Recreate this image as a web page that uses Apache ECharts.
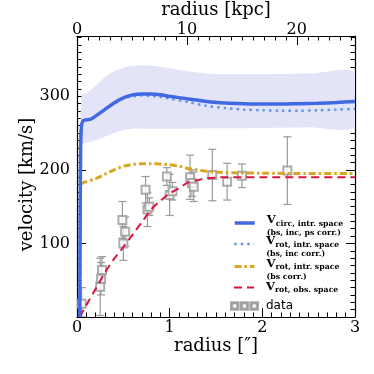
<!DOCTYPE html>
<html>
<head>
<meta charset="utf-8">
<script src="https://cdn.jsdelivr.net/npm/echarts@6/dist/echarts.min.js"></script>
<style>
html, body { margin: 0; padding: 0; background: #fff; }
#main { width: 374px; height: 374px; }
</style>
</head>
<body>
<div id="main"></div>
<script>
var myChart = echarts.init(document.getElementById('main'));

// 1 arcsec in kpc (top axis)
var kpcPerArcsec = 8.433;

// V_circ, intr. space (bs, inc, ps corr.)
var vcircR = [0.03, 0.035, 0.04, 0.05, 0.07, 0.1, 0.15, 0.2, 0.3, 0.4, 0.5, 0.6, 0.7, 0.8, 0.9, 1.0, 1.2, 1.4, 1.6, 1.8, 2.0, 2.2, 2.4, 2.6, 2.8, 3.0];
var vcircV = [0, 150, 235, 262, 267, 268, 269, 273, 282, 291, 298, 302, 303, 303, 302, 300, 296.5, 293, 291, 290, 289.5, 289.5, 290, 290.5, 291.5, 293];
// V_rot, intr. space (bs, inc corr.)
var vrotIntrV = [0, 150, 235, 262, 267, 268, 269, 273, 282, 290, 297, 300, 301, 300.5, 299, 297, 292, 287, 284, 282, 281, 280.5, 280.5, 281, 282, 283];
// V_rot, intr. space (bs corr.)
var bsR = [0.04, 0.1, 0.2, 0.3, 0.4, 0.5, 0.6, 0.7, 0.8, 0.9, 1.0, 1.1, 1.2, 1.3, 1.4, 1.5, 1.7, 2.0, 2.5, 3.0];
var bsV = [181, 184, 188, 194, 200, 205, 207.5, 208.5, 208.5, 208, 207, 205, 202, 200, 198, 197, 196, 195.5, 195, 195];
// V_rot, obs. space
var obsR = [0.03, 0.1, 0.2, 0.3, 0.4, 0.5, 0.6, 0.7, 0.8, 0.9, 1.0, 1.1, 1.2, 1.3, 1.4, 1.5, 1.6, 1.8, 2.0, 2.5, 3.0];
var obsV = [0, 16, 38, 60, 79, 95, 112, 129, 146, 158, 168, 175, 183, 186, 188.5, 189.5, 190, 190, 190, 190, 190];
// uncertainty band on V_circ
var bandR = [0.05, 0.1, 0.2, 0.3, 0.4, 0.5, 0.6, 0.7, 0.8, 0.9, 1.0, 1.2, 1.4, 1.6, 2.0, 2.5, 3.0];
var bandLo = [236, 237, 240, 245, 250, 254, 256, 256, 256, 256, 256, 256, 256.5, 256.5, 257, 258, 259];
var bandHi = [302, 304, 314, 326, 334, 339, 341.5, 342, 341.5, 340, 338, 334, 331, 330, 330, 331, 332];
// measured points
var dataR = [0.05, 0.25, 0.26, 0.27, 0.49, 0.52, 0.50, 0.74, 0.76, 0.78, 0.97, 1.00, 1.03, 1.22, 1.24, 1.26, 1.46, 1.62, 1.78, 2.27];
var dataV = [18, 41, 52, 64, 132, 116, 100, 173, 146, 150, 191, 166, 171, 190, 182, 177, 193, 184, 192, 199];
var dataErr = [22, 39, 22, 18, 25, 20, 23, 18, 23, 12, 12, 28, 12, 30, 18, 20, 35, 25, 16, 46];

var legendText = {
  vcirc: ['circ, intr. space', '(bs, inc, ps corr.)'],
  vrotIntr: ['rot, intr. space', '(bs, inc corr.)'],
  vrotBs: ['rot, intr. space', '(bs corr.)'],
  vrotObs: ['rot, obs. space', null]
};

function pairs(xs, ys) {
  return xs.map(function (x, i) { return [x, ys[i]]; });
}

var serif = 'DejaVu Serif';
var yMax = 382;
var kpcMax = 3 * kpcPerArcsec;

var legendRich = {
  v: { fontFamily: serif, fontSize: 11.5, fontWeight: 'bold', lineHeight: 13, verticalAlign: 'top', color: '#000' },
  s: { fontFamily: serif, fontSize: 7.8, fontWeight: 'bold', lineHeight: 13, verticalAlign: 'bottom', color: '#000' },
  p: { fontFamily: serif, fontSize: 7.8, fontWeight: 'bold', lineHeight: 11, color: '#000' }
};

function legendFor(name, top, lineStyle) {
  var twoLines = !!legendText[name][1];
  return {
    data: [name],
    orient: 'vertical',
    left: 233,
    top: top,
    padding: 0,
    itemWidth: 20,
    itemHeight: 10,
    selectedMode: false,
    itemStyle: { color: 'rgba(0,0,0,0)', borderColor: 'rgba(0,0,0,0)', borderWidth: 0 },
    lineStyle: lineStyle,
    formatter: function (n) {
      var t = legendText[n];
      var s = '{v|V}{s|' + t[0] + '}';
      if (t[1]) s += '\n{p|' + t[1] + '}';
      return s;
    },
    textStyle: { rich: legendRich, padding: twoLines ? [7, 0, 0, 7] : [0, 0, 0, 7] }
  };
}

// three hollow squares
var squaresIcon = 'path://M0,0H8V8H0Z M1.3,1.3V6.7H6.7V1.3Z M10.5,0H18.5V8H10.5Z M11.8,1.3V6.7H17.2V1.3Z M21,0H29V8H21Z M22.3,1.3V6.7H27.7V1.3Z';

var axisBlack = { color: '#000', width: 1.2 };
var majorTick = { show: true, inside: true, length: 9, lineStyle: { color: '#000', width: 1 } };
var minorTickAxis = { show: true, inside: true, length: 4.5, lineStyle: { color: '#000', width: 1 } };
var nameStyle = { fontFamily: serif, fontSize: 18, color: '#000' };
var tickFont = { fontFamily: serif, fontSize: 16, color: '#000' };

var option = {
  animation: false,
  grid: { left: 77, right: 19, top: 36, bottom: 57, containLabel: false, outerBoundsMode: 'none' },
  legend: [
    legendFor('vcirc', 214.5, { width: 3.5 }),
    legendFor('vrotIntr', 235.5, { width: 2.5 }),
    legendFor('vrotBs', 258, { width: 3 }),
    legendFor('vrotObs', 281, { width: 2 }),
    {
      data: [{ name: 'data', icon: squaresIcon }],
      left: 230, top: 300, padding: 0,
      itemWidth: 27, itemHeight: 7.5,
      selectedMode: false,
      itemStyle: { color: '#999' },
      textStyle: { fontFamily: 'DejaVu Sans', fontSize: 12, color: '#000', padding: [0, 0, 0, 3] }
    }
  ],
  xAxis: [
    {
      type: 'value', position: 'bottom', min: 0, max: 3, interval: 1, offset: 0,
      name: 'radius [\u2033]', nameLocation: 'middle', nameGap: 20, nameMoveOverlap: false,
      nameTextStyle: nameStyle,
      axisLine: { show: true, onZero: false, lineStyle: axisBlack },
      axisTick: majorTick,
      minorTick: { show: true, splitNumber: 10, length: 4.5, lineStyle: { color: '#000', width: 1 } },
      axisLabel: Object.assign({ margin: 3 }, tickFont),
      splitLine: { show: false }, minorSplitLine: { show: false }
    },
    {
      type: 'value', position: 'top', min: 0, max: kpcMax, interval: 10, offset: 0,
      name: 'radius [kpc]', nameLocation: 'middle', nameGap: 17, nameMoveOverlap: false,
      nameTextStyle: nameStyle,
      axisLine: { show: true, onZero: false, lineStyle: axisBlack },
      axisTick: majorTick,
      axisLabel: Object.assign({
        margin: -2,
        formatter: function (v) { return v % 10 === 0 ? String(v) : ''; }
      }, tickFont),
      splitLine: { show: false }
    },
    {
      type: 'value', position: 'top', min: 0, max: kpcMax, interval: 1, offset: 0,
      axisLine: { show: false, onZero: false },
      axisTick: minorTickAxis,
      axisLabel: { show: false },
      splitLine: { show: false }
    }
  ],
  yAxis: [
    {
      type: 'value', position: 'left', min: 0, max: yMax, interval: 100, offset: 0,
      name: 'velocity [km/s]', nameLocation: 'middle', nameGap: 41, nameMoveOverlap: false,
      nameTextStyle: Object.assign({ padding: [0, 16, 0, 0] }, nameStyle),
      axisLine: { show: true, onZero: false, lineStyle: axisBlack },
      axisTick: majorTick,
      axisLabel: Object.assign({
        margin: 7,
        formatter: function (v) { return v % 100 === 0 && v > 0 ? String(v) : ''; }
      }, tickFont),
      splitLine: { show: false }
    },
    {
      type: 'value', position: 'left', min: 0, max: yMax, interval: 10, offset: 0,
      axisLine: { show: false, onZero: false },
      axisTick: minorTickAxis,
      axisLabel: { show: false },
      splitLine: { show: false }
    },
    {
      type: 'value', position: 'right', min: 0, max: yMax, interval: 100, offset: 0,
      axisLine: { show: true, onZero: false, lineStyle: axisBlack },
      axisTick: majorTick,
      axisLabel: { show: false },
      splitLine: { show: false }
    },
    {
      type: 'value', position: 'right', min: 0, max: yMax, interval: 10, offset: 0,
      axisLine: { show: false, onZero: false },
      axisTick: minorTickAxis,
      axisLabel: { show: false },
      splitLine: { show: false }
    }
  ],
  series: [
    {
      name: 'band', type: 'custom', silent: true, clip: true,
      data: [[bandR[0], bandLo[0]]],
      renderItem: function (params, api) {
        var pts = [];
        var i;
        for (i = 0; i < bandR.length; i++) pts.push(api.coord([bandR[i], bandHi[i]]));
        for (i = bandR.length - 1; i >= 0; i--) pts.push(api.coord([bandR[i], bandLo[i]]));
        return {
          type: 'polygon',
          shape: { points: pts, smooth: 0.3 },
          style: { fill: '#e4e4f8', stroke: 'none' }
        };
      }
    },
    {
      name: 'errors', type: 'custom', clip: true,
      data: dataR.map(function (r, i) { return [r, Math.max(0, dataV[i] - dataErr[i]), dataV[i] + dataErr[i]]; }),
      encode: { x: 0, y: [1, 2] },
      renderItem: function (params, api) {
        var x = api.value(0);
        var top = api.coord([x, api.value(2)]);
        var bot = api.coord([x, api.value(1)]);
        var hw = 4;
        var st = { stroke: '#9a9a9a', lineWidth: 1.2 };
        return {
          type: 'group',
          children: [
            { type: 'line', shape: { x1: top[0], y1: top[1], x2: bot[0], y2: bot[1] }, style: st },
            { type: 'line', shape: { x1: top[0] - hw, y1: top[1], x2: top[0] + hw, y2: top[1] }, style: st },
            { type: 'line', shape: { x1: bot[0] - hw, y1: bot[1], x2: bot[0] + hw, y2: bot[1] }, style: st }
          ]
        };
      }
    },
    {
      name: 'data', type: 'scatter', symbol: 'emptyRect', symbolSize: 8,
      data: pairs(dataR, dataV),
      itemStyle: { color: '#999', borderColor: '#999', borderWidth: 1.5 }
    },
    {
      name: 'vrotBs', type: 'line', symbol: 'none', smooth: 0.3,
      data: pairs(bsR, bsV),
      lineStyle: { color: '#daa520', width: 3, type: [7, 3, 2.5, 3] },
      itemStyle: { color: '#daa520' }
    },
    {
      name: 'vrotObs', type: 'line', symbol: 'none', smooth: 0.3,
      data: pairs(obsR, obsV),
      lineStyle: { color: '#dc143c', width: 2, type: [8, 5] },
      itemStyle: { color: '#dc143c' }
    },
    {
      name: 'vrotIntr', type: 'line', symbol: 'none', smooth: 0.3,
      data: pairs(vcircR, vrotIntrV),
      lineStyle: { color: '#6495ed', width: 2.5, type: [2.5, 4] },
      itemStyle: { color: '#6495ed' }
    },
    {
      name: 'vcirc', type: 'line', symbol: 'none', smooth: 0.3,
      data: pairs(vcircR, vcircV),
      lineStyle: { color: '#4169e1', width: 3.5 },
      itemStyle: { color: '#4169e1' }
    }
  ]
};
myChart.setOption(option);
</script>
</body>
</html>
